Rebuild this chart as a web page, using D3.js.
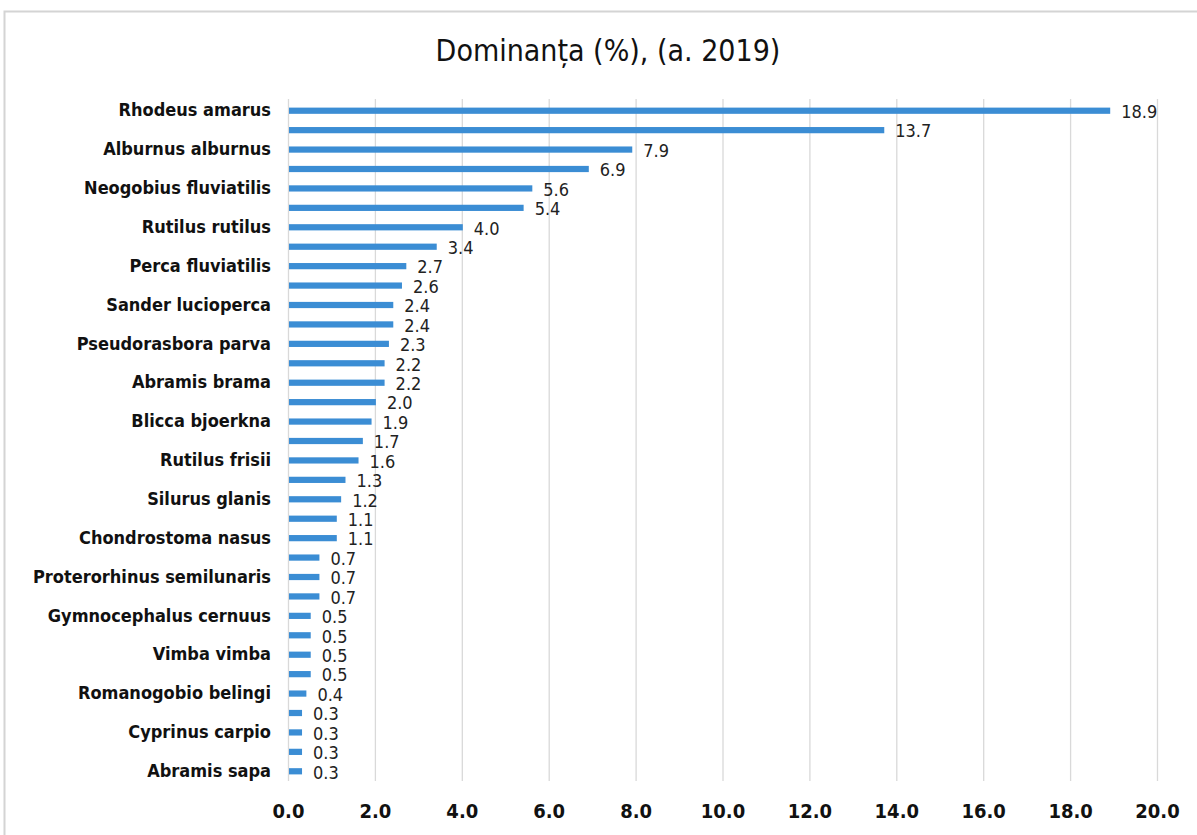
<!DOCTYPE html>
<html lang="ro"><head>
  <meta charset="utf-8">
  <title>Dominanta</title>
  <script src="https://cdn.jsdelivr.net/npm/d3@7"></script>
  <style>
   body { margin: 0; background: white; }
  </style>
</head>
<body>
  <script>
   // only every other category name is shown on the axis (as in the source chart)
   var labels = ["Rhodeus amarus", "", "Alburnus alburnus", "", "Neogobius fluviatilis", "",
                 "Rutilus rutilus", "", "Perca fluviatilis", "", "Sander lucioperca", "",
                 "Pseudorasbora parva", "", "Abramis brama", "", "Blicca bjoerkna", "",
                 "Rutilus frisii", "", "Silurus glanis", "", "Chondrostoma nasus", "",
                 "Proterorhinus semilunaris", "", "Gymnocephalus cernuus", "", "Vimba vimba", "",
                 "Romanogobio belingi", "", "Cyprinus carpio", "", "Abramis sapa"];
   var values = [18.9, 13.7, 7.9, 6.9, 5.6, 5.4, 4.0, 3.4, 2.7, 2.6, 2.4, 2.4, 2.3, 2.2, 2.2,
                 2.0, 1.9, 1.7, 1.6, 1.3, 1.2, 1.1, 1.1, 0.7, 0.7, 0.7, 0.5, 0.5, 0.5, 0.5,
                 0.4, 0.3, 0.3, 0.3, 0.3];
   var ticks = [0, 2, 4, 6, 8, 10, 12, 14, 16, 18, 20];
   var title = "Dominanța (%), (a. 2019)";

   var width = 1197, height = 835;
   // note: "top" is reserved on window, so plot edges get their own names
   var plotLeft = 288, plotRight = 1157, plotTop = 101, plotBottom = 781;
   var font = "'DejaVu Sans Condensed', 'DejaVu Sans', sans-serif";

   var data = values.map(function(v, i) { return { i: i, name: labels[i], value: v }; });

   var x = d3.scaleLinear().domain([0, 20]).range([plotLeft, plotRight]);
   var y = d3.scaleBand().domain(d3.range(values.length))
             .range([plotTop, plotBottom]).paddingInner(0.68).paddingOuter(0.34);

   var svg = d3.select("body").append("svg")
               .attr("width", width)
               .attr("height", height);

   // chart frame
   svg.append("rect")
      .attr("x", 4.5).attr("y", 11.5)
      .attr("width", width + 10).attr("height", height + 10)
      .attr("fill", "white")
      .attr("stroke", "#d4d4d4")
      .attr("stroke-width", 2);

   svg.append("text")
      .attr("x", 608)
      .attr("y", 61)
      .attr("text-anchor", "middle")
      .attr("font-family", font)
      .attr("font-size", 30)
      .attr("fill", "#111")
      .text(title);

   // vertical gridlines
   svg.append("g")
      .selectAll("line")
      .data(ticks)
      .enter()
      .append("line")
      .attr("x1", function(d) { return x(d) + 0.5; })
      .attr("x2", function(d) { return x(d) + 0.5; })
      .attr("y1", plotTop - 2)
      .attr("y2", plotBottom)
      .attr("stroke", "#d9d9d9")
      .attr("stroke-width", 1.3);

   // x axis labels
   var xAxis = d3.axisBottom(x).tickValues(ticks).tickSize(0).tickPadding(0)
                 .tickFormat(d3.format(".1f"));
   var gx = svg.append("g")
               .attr("transform", "translate(0," + 804 + ")")
               .call(xAxis);
   gx.select(".domain").remove();
   gx.selectAll("text")
     .attr("font-family", font)
     .attr("font-weight", "bold")
     .attr("font-size", 20)
     .attr("fill", "#111")
     .attr("dy", "0.71em");

   // y axis labels
   var yAxis = d3.axisLeft(y).tickSize(0).tickPadding(0)
                 .tickFormat(function(i) { return labels[i]; });
   var gy = svg.append("g")
               .attr("transform", "translate(" + 271 + ",0)")
               .call(yAxis);
   gy.select(".domain").remove();
   gy.selectAll("text")
     .attr("font-family", font)
     .attr("font-weight", "bold")
     .attr("font-size", 18)
     .attr("fill", "#111");

   svg.append("g")
      .selectAll("rect")
      .data(data)
      .enter()
      .append("rect")
      .attr("x", x(0) + 1)
      .attr("y", function(d) { return y(d.i); })
      .attr("width", function(d) { return x(d.value) - x(0); })
      .attr("height", y.bandwidth())
      .attr("fill", "#3b8dd4");

   svg.append("g")
      .selectAll("text")
      .data(data)
      .enter()
      .append("text")
      .attr("x", function(d) { return x(d.value) + 12; })
      .attr("y", function(d) { return y(d.i) + y.bandwidth() / 2 + 1; })
      .attr("dy", "0.35em")
      .attr("font-family", font)
      .attr("font-size", 18)
      .attr("fill", "#222")
      .text(function(d) { return d3.format(".1f")(d.value); });
  </script>
</body></html>
